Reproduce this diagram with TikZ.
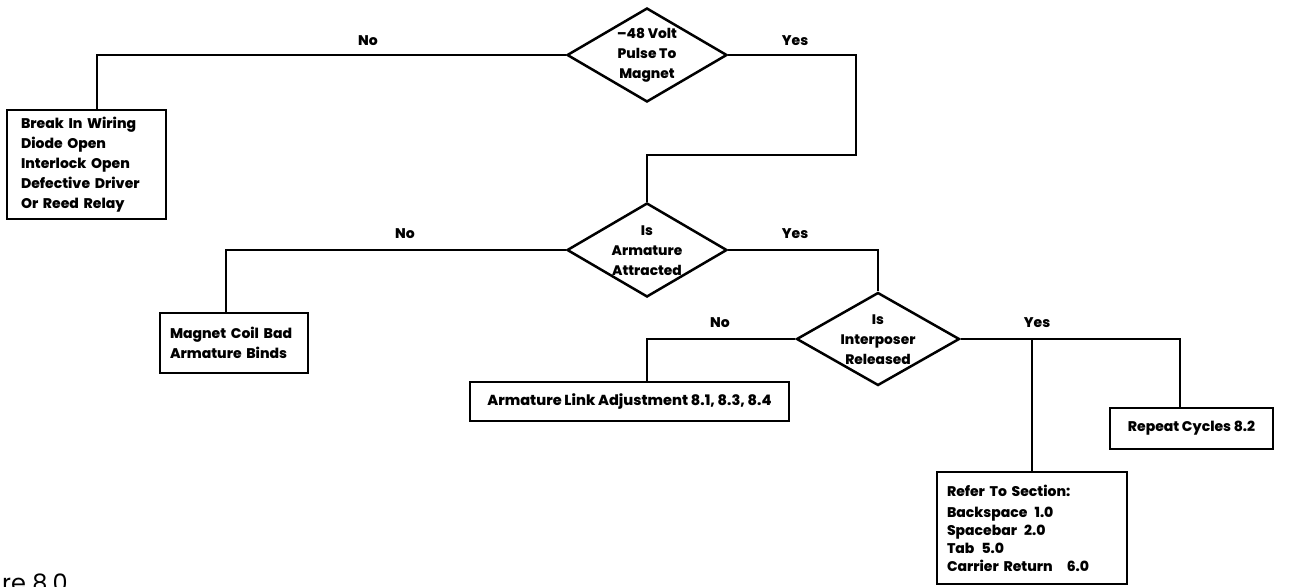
\documentclass[tikz,border=0pt]{standalone}
\usepackage{fontspec}
\setmainfont{Poppins}[BoldFont={Poppins ExtraBold}]
\usetikzlibrary{shapes.geometric}

\begin{document}
\begin{tikzpicture}[x=1pt,y=-1pt,
  line/.style={line width=2.5pt, line join=miter},
  dec/.style={draw, line width=2.5pt, diamond, minimum width=160pt, minimum height=94pt, inner sep=0pt},
  dtext/.style={align=center, font=\bfseries\fontsize{13.8}{20}\selectfont, inner sep=0pt},
  box/.style={draw, line width=2.5pt, rectangle, font=\bfseries\fontsize{14}{20}\selectfont},
  lbl/.style={font=\bfseries\fontsize{14}{14}\selectfont, inner sep=0pt}
]
\useasboundingbox (0,0) rectangle (1289,586);
\clip (0,0) rectangle (1289,586);

% decisions
\node[dec] (d1) at (647,55) {};
\node[dtext] (d1t) at (d1.center) {--48 Volt\\Pulse To\\Magnet};
\node[dec] (d2) at (647,250) {};
\node[dtext] (d2t) at ([yshift=-1pt]d2.center) {Is\\Armature\\Attracted};
\node[dec, minimum width=163pt, minimum height=93pt] (d3) at (878,339) {};
\node[dtext] (d3t) at ([yshift=-1pt]d3.center) {Is\\Interposer\\Released};

% result boxes
\node[box, minimum width=159pt, minimum height=109pt, text width=131pt, inner xsep=14pt, align=left]
  (b1) at (86.5,164.5) {Break In Wiring\\Diode Open\\Interlock Open\\Defective Driver\\Or Reed Relay};
\node[box, minimum width=148pt, minimum height=60pt, text width=128pt, inner xsep=10pt, align=left]
  (b2) at (234,343) {Magnet Coil Bad\\Armature Binds};
\node[box, minimum width=319pt, minimum height=39pt, font=\bfseries\fontsize{14.5}{20}\selectfont]
  (b3) at (629.5,401.5) {Armature Link Adjustment 8.1, 8.3, 8.4};
\node[box, minimum width=163pt, minimum height=41pt] (rep) at (1191.5,428.5)
  {Repeat Cycles 8.2};
\node[box, minimum width=190pt, minimum height=112pt, text width=170pt, inner xsep=10pt, align=left,
  font=\bfseries\fontsize{14}{18}\selectfont] (ref) at (1032,528)
  {Refer To Section:\\[3pt]Backspace\enspace 1.0\\Spacebar\enspace 2.0\\Tab\enspace 5.0\\Carrier Return\quad 6.0};

% connectors
\coordinate (j1) at (856,155);
\draw[line] (d1.west) -| ([xshift=10.5pt]b1.north);
\draw[line] (d1.east) -| (j1) -| (d2.north);
\draw[line] (d2.west) -| ([xshift=-8pt]b2.north);
\draw[line] (d2.east) -| (d3.north);
\draw[line] (d3.west) -| ([xshift=17.5pt]b3.north);
\draw[line] (d3.east) -| ([xshift=-11.5pt]rep.north);
\draw[line] (d3.east -| ref.north) -- (ref.north);

% branch labels
\node[lbl] (no1) at (368,41) {No};
\node[lbl] (yes1) at (795,41) {Yes};
\node[lbl] (no2) at (405,234) {No};
\node[lbl] (yes2) at (795,234) {Yes};
\node[lbl] (no3) at (720,323) {No};
\node[lbl] (yes3) at (1037,323) {Yes};

% caption
\node[anchor=base west, inner sep=0pt, font=\fontsize{24}{24}\selectfont] (cap) at (2,591) {re 8.0};
\end{tikzpicture}
\end{document}
